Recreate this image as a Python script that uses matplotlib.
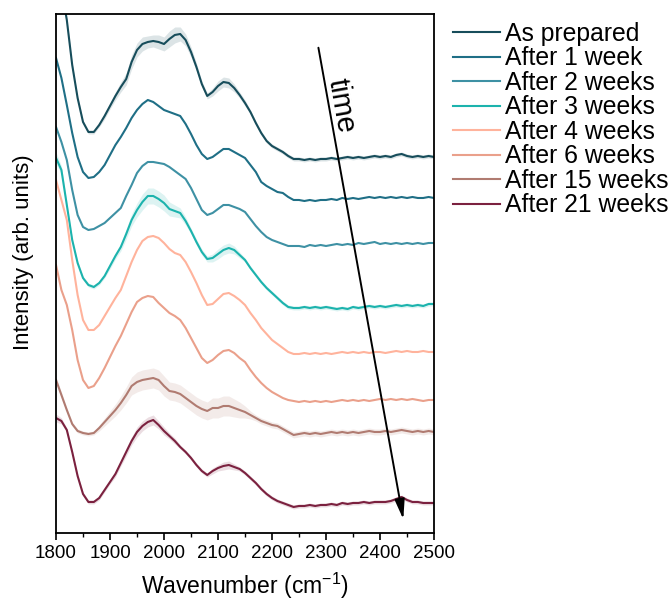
import numpy as np
import matplotlib
matplotlib.use("Agg")
import matplotlib.pyplot as plt
from matplotlib.ticker import MultipleLocator

plt.rcParams['font.family'] = ['Liberation Sans', 'DejaVu Sans']
plt.rcParams['mathtext.default'] = 'regular'

# wavenumber grid (cm-1), 10 cm-1 step
wavenumber = np.arange(1800, 2501, 10)

labels = ['As prepared', 'After 1 week', 'After 2 weeks', 'After 3 weeks',
          'After 4 weeks', 'After 6 weeks', 'After 15 weeks', 'After 21 weeks']
colors = ['#174d5b', '#1f6f86', '#3e91a4', '#1cb3ad',
          '#ffb39c', '#eaa08b', '#b07b71', '#7b213f']

# stacked (offset) spectra, arb. units
as_prepared = [578, 545, 513, 468, 435, 411, 401, 401, 408, 417,
               427, 437, 446, 454, 471, 483, 489, 491, 492, 491,
               489, 494, 498, 499, 493, 481, 466, 449, 437, 441,
               447, 451, 450, 445, 438, 430, 421, 410, 400, 392,
               387, 384, 381, 377, 374, 374, 373, 374, 373, 374,
               374, 375, 374, 375, 376, 375, 376, 375, 376, 377,
               376, 377, 376, 378, 379, 377, 376, 377, 376, 377,
               376]
week_1 = [475, 455, 428, 400, 376, 361, 355, 356, 361, 368,
          378, 388, 396, 405, 415, 423, 429, 433, 431, 427,
          423, 421, 419, 417, 409, 399, 388, 379, 374, 376,
          380, 384, 384, 381, 378, 375, 368, 361, 351, 347,
          344, 341, 340, 336, 333, 333, 332, 333, 332, 333,
          333, 334, 333, 335, 334, 335, 334, 335, 336, 335,
          336, 335, 336, 335, 336, 335, 336, 335, 335, 336,
          335]
week_2 = [406, 391, 373, 343, 318, 306, 303, 304, 307, 310,
          315, 320, 325, 337, 348, 360, 367, 371, 371, 370,
          369, 366, 362, 358, 354, 345, 334, 323, 318, 320,
          324, 328, 328, 326, 324, 321, 314, 307, 301, 296,
          293, 291, 289, 287, 287, 287, 286, 288, 287, 288,
          287, 288, 289, 288, 289, 288, 290, 289, 290, 291,
          289, 290, 289, 290, 289, 290, 289, 290, 289, 290,
          290]
week_3 = [375, 363, 328, 293, 270, 255, 248, 246, 250, 257,
          267, 277, 286, 299, 313, 323, 331, 337, 337, 334,
          330, 324, 322, 320, 312, 302, 291, 281, 274, 275,
          279, 283, 285, 283, 278, 273, 265, 258, 251, 245,
          240, 235, 230, 226, 225, 225, 226, 225, 226, 225,
          226, 225, 224, 225, 224, 226, 225, 226, 227, 226,
          227, 226, 227, 228, 227, 228, 227, 228, 227, 229,
          229]
week_4 = [353, 333, 313, 273, 238, 213, 203, 203, 208, 217,
          226, 235, 243, 257, 271, 283, 292, 296, 297, 295,
          290, 284, 280, 278, 271, 261, 250, 238, 228, 229,
          234, 239, 240, 237, 233, 228, 220, 213, 205, 199,
          193, 189, 185, 181, 179, 179, 180, 179, 180, 179,
          180, 179, 180, 181, 180, 181, 180, 181, 180, 181,
          181, 180, 181, 182, 181, 182, 181, 181, 182, 181,
          181]
week_6 = [268, 243, 228, 203, 173, 153, 145, 147, 155, 165,
          176, 187, 197, 209, 221, 231, 235, 237, 236, 230,
          225, 220, 217, 213, 205, 195, 185, 175, 170, 173,
          178, 182, 183, 180, 175, 171, 163, 156, 150, 145,
          141, 138, 135, 133, 132, 131, 132, 131, 132, 131,
          132, 131, 132, 133, 132, 133, 132, 133, 132, 133,
          134, 133, 134, 133, 134, 133, 134, 133, 132, 133,
          133]
week_15 = [153, 138, 123, 109, 102, 100, 99, 100, 105, 111,
           117, 123, 130, 138, 147, 151, 153, 154, 155, 153,
           147, 142, 141, 139, 135, 131, 127, 124, 122, 125,
           125, 127, 127, 125, 123, 121, 118, 115, 112, 110,
           108, 107, 104, 101, 98, 99, 100, 99, 100, 99,
           100, 101, 100, 101, 100, 101, 100, 101, 102, 101,
           101, 102, 101, 102, 103, 102, 101, 102, 101, 102,
           101]
week_21 = [115, 112, 103, 81, 57, 39, 31, 31, 35, 43,
           51, 59, 70, 81, 92, 101, 107, 111, 113, 108,
           102, 97, 92, 86, 81, 75, 68, 62, 58, 62,
           65, 67, 68, 66, 64, 60, 55, 50, 44, 39,
           35, 32, 30, 28, 26, 27, 27, 28, 27, 28,
           28, 29, 28, 30, 29, 30, 30, 31, 30, 31,
           31, 31, 32, 34, 36, 33, 31, 31, 30, 30,
           30]

# standard deviation of repeated scans
err_prepared = [2, 2, 2, 2, 2, 2, 2, 2, 2, 3,
                3, 4, 5, 6, 7, 7, 7, 6, 6, 7,
                7, 8, 8, 7, 6, 5, 4, 3, 3, 4,
                5, 5, 5, 4, 3, 3, 2, 2, 2, 2,
                2, 2, 2, 2, 2, 2, 2, 2, 2, 2,
                2, 2, 2, 2, 2, 2, 2, 2, 2, 2,
                2, 2, 2, 2, 2, 2, 2, 2, 2, 2,
                2]
err_week_3 = [6, 4, 3, 2, 2, 2, 2, 2, 2, 2,
              3, 3, 4, 5, 6, 7, 8, 8, 8, 8,
              8, 7, 6, 5, 4, 3, 3, 3, 3, 4,
              5, 5, 5, 4, 3, 2, 2, 2, 2, 2,
              2, 2, 2, 2, 2, 2, 2, 2, 2, 2,
              2, 2, 2, 2, 2, 2, 2, 2, 2, 2,
              2, 2, 2, 2, 2, 2, 2, 2, 2, 2,
              2]
err_week_15 = [3, 3, 2, 2, 2, 2, 2, 2, 3, 4,
               5, 6, 7, 8, 9, 10, 10, 10, 10, 10,
               10, 9, 9, 9, 9, 9, 9, 9, 9, 10,
               10, 10, 10, 9, 8, 6, 4, 3, 3, 3,
               3, 3, 3, 3, 3, 3, 3, 3, 3, 3,
               3, 3, 3, 3, 3, 3, 3, 3, 3, 3,
               3, 3, 3, 3, 3, 3, 3, 3, 3, 3,
               3]
err_week_21 = [4, 3, 2, 2, 2, 2, 2, 2, 2, 2,
               2, 3, 3, 4, 4, 5, 5, 5, 5, 4,
               4, 3, 3, 2, 2, 2, 2, 2, 2, 3,
               3, 4, 4, 3, 2, 2, 2, 2, 2, 2,
               2, 2, 2, 2, 2, 2, 2, 2, 2, 2,
               2, 2, 2, 2, 2, 2, 2, 2, 2, 2,
               2, 2, 2, 2, 2, 2, 2, 2, 2, 2,
               2]

spectra = [as_prepared, week_1, week_2, week_3, week_4, week_6, week_15, week_21]
errors = [err_prepared, None, None, err_week_3, None, None, err_week_15, err_week_21]

fig = plt.figure(figsize=(6.7, 6.03), dpi=100)
ax = fig.add_axes([0.0836, 0.1161, 0.5642, 0.8607])

for y, e, c, lab in zip(spectra, errors, colors, labels):
    y = np.array(y)
    if e is not None:
        e = np.array(e)
        ax.fill_between(wavenumber, y - e, y + e, color=c, alpha=0.15, lw=0)
    ax.plot(wavenumber, y, color=c, lw=1.5, label=lab)

ax.set_xlim(1800, 2500)
ax.set_ylim(0, 519)
ax.xaxis.set_major_locator(MultipleLocator(100))
ax.xaxis.set_minor_locator(MultipleLocator(50))
ax.tick_params(axis='x', which='major', direction='out', length=5, width=1.2,
               labelsize=13.5, pad=4)
ax.tick_params(axis='x', which='minor', direction='out', length=3, width=1.0)
ax.set_yticks([])
for s in ax.spines.values():
    s.set_linewidth(1.3)

ax.set_xlabel('Wavenumber (cm$^{-1}$)', fontsize=16.5, labelpad=6)
ax.set_ylabel('Intensity (arb. units)', fontsize=16)
ax.yaxis.set_label_coords(-0.057, 0.541)

# ageing direction
ax.annotate('', xy=(2444, 11), xytext=(2285, 488),
            arrowprops=dict(arrowstyle='-|>,head_length=0.6,head_width=0.15',
                            color='black', lw=1.4, mutation_scale=20))
ax.text(2328, 427, 'time', fontsize=21, rotation=-80,
        rotation_mode='anchor', ha='center', va='center')

fig.legend(loc='upper left', bbox_to_anchor=(453 / 670, 1 - 22 / 603),
           frameon=False, fontsize=17.8, handlelength=1.9, handletextpad=0.2,
           labelspacing=0.02, borderpad=0, borderaxespad=0)

fig.savefig('out.png', dpi=100)
